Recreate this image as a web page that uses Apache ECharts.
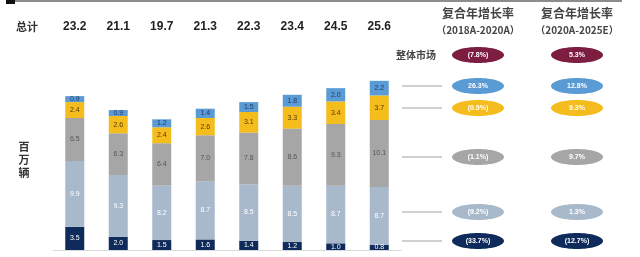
<!DOCTYPE html>
<html><head><meta charset="utf-8">
<script src="https://cdn.jsdelivr.net/npm/echarts@6/dist/echarts.min.js"></script>
<style>html,body{margin:0;padding:0;background:#fff}#c{width:640px;height:257px}</style>
</head><body><div id="c"></div>
<script>
// China vehicle market by segment, millions of units
const years = ['2018A', '2019A', '2020A', '2021E', '2022E', '2023E', '2024E', '2025E'];
const totals = ['23.2', '21.1', '19.7', '21.3', '22.3', '23.4', '24.5', '25.6'];
const segNavy = [3.5, 2.0, 1.5, 1.6, 1.4, 1.2, 1.0, 0.8];
const segSteel = [9.9, 9.3, 8.2, 8.7, 8.5, 8.5, 8.7, 8.7];
const segGray = [6.5, 6.3, 6.4, 7.0, 7.8, 8.6, 9.3, 10.1];
const segYellow = [2.4, 2.6, 2.4, 2.6, 3.1, 3.3, 3.4, 3.7];
const segBlue = [0.9, 0.9, 1.2, 1.4, 1.5, 1.8, 2.0, 2.2];
// CAGR annotations: overall market first, then segments from top to bottom
const cagr1820 = ['(7.8%)', '26.3%', '(0.9%)', '(1.1%)', '(9.2%)', '(33.7%)'];
const cagr2025 = ['5.3%', '12.8%', '9.3%', '9.7%', '1.3%', '(12.7%)'];

const CJK = '"Noto Sans CJK SC", sans-serif';
const LAT = '"Liberation Sans", Arial, sans-serif';

function seg(name, data, color, textColor) {
  return {
    name, type: 'bar', stack: 'total', data, barWidth: 19,
    itemStyle: { color },
    label: {
      show: true, position: 'inside', fontSize: 7, fontFamily: LAT,
      color: textColor, formatter: p => p.value.toFixed(1)
    }
  };
}

const rowY = [55, 86, 108, 157, 212, 241];
const pillColors = ['#7d1d3f', '#5b9bd5', '#f4bc1c', '#a6a6a6', '#a9b9cc', '#0f2b5b'];
const colX = [478, 577];

const graphics = [
  { type: 'rect', shape: { x: 15, y: 0, width: 607, height: 2 }, style: { fill: '#8c8c8c' } },
  { type: 'rect', shape: { x: 6, y: 0, width: 9, height: 4 }, style: { fill: '#111' } },
  { type: 'text', x: 16, y: 27, style: { text: '总计', font: 'bold 11px ' + CJK, fill: '#333', verticalAlign: 'middle' } },
  { type: 'text', x: 24, y: 160, style: { text: '百\n万\n辆', font: 'bold 11px ' + CJK, fill: '#333', align: 'center', verticalAlign: 'middle', lineHeight: 13 } },
  { type: 'text', x: colX[0], y: 13, style: { text: '复合年增长率', font: 'bold 12px ' + CJK, fill: '#444', align: 'center', verticalAlign: 'middle' } },
  { type: 'text', x: colX[0], y: 30, style: { text: '（2018A-2020A）', font: 'bold 10px ' + CJK, fill: '#444', align: 'center', verticalAlign: 'middle' } },
  { type: 'text', x: colX[1], y: 13, style: { text: '复合年增长率', font: 'bold 12px ' + CJK, fill: '#444', align: 'center', verticalAlign: 'middle' } },
  { type: 'text', x: colX[1], y: 30, style: { text: '（2020A-2025E）', font: 'bold 10px ' + CJK, fill: '#444', align: 'center', verticalAlign: 'middle' } },
  { type: 'text', x: 416, y: 55, style: { text: '整体市场', font: 'bold 10px ' + CJK, fill: '#444', align: 'center', verticalAlign: 'middle' } }
];
rowY.forEach((y, i) => {
  if (i > 0) {
    graphics.push({ type: 'line', shape: { x1: 402, y1: y, x2: 442, y2: y }, style: { stroke: '#a0a0a0', lineWidth: 1 } });
  }
  [cagr1820, cagr2025].forEach((arr, c) => {
    graphics.push({ type: 'ellipse', shape: { cx: colX[c], cy: y, rx: 26, ry: 8 }, style: { fill: pillColors[i] } });
    graphics.push({ type: 'text', x: colX[c], y: y, style: { text: arr[i], font: 'bold 7px ' + LAT, fill: '#fff', align: 'center', verticalAlign: 'middle' } });
  });
});

const chart = echarts.init(document.getElementById('c'));
chart.setOption({
  animation: false,
  grid: { left: 53, right: 239, top: 51, bottom: 7 },
  xAxis: [
    { type: 'category', data: years, axisLabel: { show: false }, axisTick: { show: false },
      axisLine: { lineStyle: { color: '#d9d9d9' } } },
    { type: 'category', data: totals, position: 'top', axisLine: { show: false }, axisTick: { show: false },
      axisLabel: { margin: 18, fontSize: 12, fontWeight: 'bold', color: '#222', fontFamily: LAT } }
  ],
  yAxis: { type: 'value', min: 0, max: 30, show: false },
  series: [
    seg('navy', segNavy, '#0f2b5b', '#fff'),
    seg('steel', segSteel, '#a9b9cc', '#fff'),
    seg('gray', segGray, '#a6a6a6', '#555'),
    seg('yellow', segYellow, '#f4bc1c', '#5a3a00'),
    seg('blue', segBlue, '#5b9bd5', '#1f3864')
  ],
  graphic: graphics
});
</script></body></html>
